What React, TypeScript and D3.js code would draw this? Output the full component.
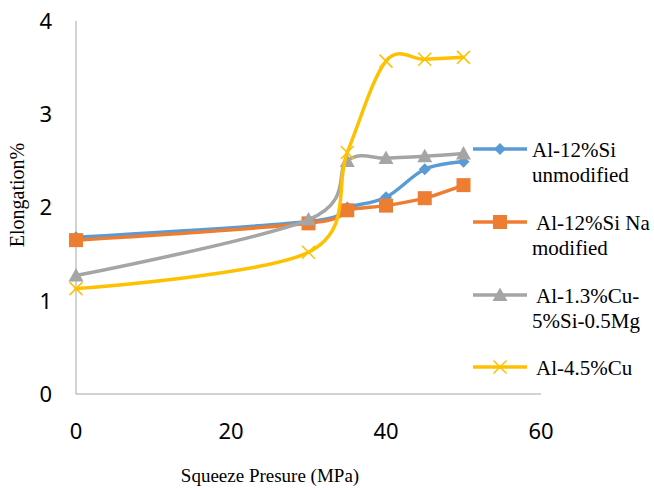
import React from "react";
import * as d3 from "d3";

const pressures = [0, 30, 35, 40, 45, 50];
const seriesNames = ["Al-12%Si unmodified", "Al-12%Si Na modified", "Al-1.3%Cu-5%Si-0.5Mg", "Al-4.5%Cu"];
const al12SiUnmod = [1.68, 1.85, 2.0, 2.11, 2.41, 2.49];
const al12SiNa = [1.65, 1.83, 1.97, 2.02, 2.1, 2.24];
const al13Cu = [1.27, 1.87, 2.5, 2.53, 2.55, 2.58];
const al45Cu = [1.13, 1.52, 2.59, 3.57, 3.59, 3.61];
const xTicks = [0, 20, 40, 60];
const yTicks = [0, 1, 2, 3, 4];
const legendLines = [["Al-12%Si", "unmodified"], [" Al-12%Si Na", "modified"], [" Al-1.3%Cu-", "5%Si-0.5Mg"], [" Al-4.5%Cu"]];
const colors = ["#5B9BD5", "#ED7D31", "#A5A5A5", "#FFC000"];
const markers = ["diamond", "square", "triangle", "x"];

const W = 654, H = 490;
const x = d3.scaleLinear().domain([0, 60]).range([76, 541]);
const y = d3.scaleLinear().domain([0, 4]).range([394, 21]);

function Marker({ kind, cx, cy, color }: { kind: string; cx: number; cy: number; color: string }) {
  if (kind === "diamond") {
    const r = 6;
    return <path d={`M${cx},${cy - r}L${cx + r},${cy}L${cx},${cy + r}L${cx - r},${cy}Z`} fill={color} />;
  }
  if (kind === "square") {
    const r = 7;
    return <rect x={cx - r} y={cy - r} width={2 * r} height={2 * r} fill={color} />;
  }
  if (kind === "triangle") {
    const r = 7.5;
    return <path d={`M${cx},${cy - r}L${cx + r},${cy + r * 0.8}L${cx - r},${cy + r * 0.8}Z`} fill={color} />;
  }
  const r = 6.5;
  return (
    <path d={`M${cx - r},${cy - r}L${cx + r},${cy + r}M${cx - r},${cy + r}L${cx + r},${cy - r}`} stroke={color} strokeWidth={1.5} fill="none" />
  );
}

export default function App() {
  const data = [al12SiUnmod, al12SiNa, al13Cu, al45Cu];
  const line = d3
    .line<number>()
    .x((_, i) => x(pressures[i]))
    .y((d) => y(d))
    .curve(d3.curveCardinal.tension(0));
  const legendY = [149, 222, 295, 367];
  return (
    <svg width={W} height={H} style={{ position: "absolute", left: 0, top: 0, background: "#fff" }}>
      <rect width={W} height={H} fill="#fff" />
      <line x1={x(0)} x2={x(0)} y1={y(4)} y2={y(0)} stroke="#A6A6A6" strokeWidth={1} />
      <line x1={x(0)} x2={x(60)} y1={y(0)} y2={y(0)} stroke="#A6A6A6" strokeWidth={1} />
      {yTicks.map((t) => (
        <text key={"y" + t} x={52} y={y(t)} dy="0.36em" textAnchor="end" fontFamily="'Noto Sans', sans-serif" fontSize={22} fill="#000">
          {t}
        </text>
      ))}
      {xTicks.map((t) => (
        <text key={"x" + t} x={x(t)} y={431} dy="0.36em" textAnchor="middle" fontFamily="'Noto Sans', sans-serif" fontSize={22} fill="#000">
          {t}
        </text>
      ))}
      <text transform="translate(24,195) rotate(-90)" textAnchor="middle" fontFamily="'Liberation Serif', serif" fontSize={20} fill="#000">
        Elongation%
      </text>
      <text x={270} y={482} textAnchor="middle" fontFamily="'Liberation Serif', serif" fontSize={19} fill="#000">
        Squeeze Presure (MPa)
      </text>
      {data.map((vals, si) => (
        <g key={si}>
          <path d={line(vals) || ""} fill="none" stroke={colors[si]} strokeWidth={3.5} strokeLinejoin="round" strokeLinecap="round" />
          {vals.map((v, i) => (
            <Marker key={i} kind={markers[si]} cx={x(pressures[i])} cy={y(v)} color={colors[si]} />
          ))}
        </g>
      ))}
      {seriesNames.map((name, si) => (
        <g key={name}>
          <line x1={473} x2={527} y1={legendY[si]} y2={legendY[si]} stroke={colors[si]} strokeWidth={3.5} />
          <Marker kind={markers[si]} cx={500} cy={legendY[si]} color={colors[si]} />
          <text fontFamily="'Liberation Serif', serif" fontSize={21} fill="#000" xmlSpace="preserve">
            {legendLines[si].map((ln, li) => (
              <tspan key={li} x={532} y={legendY[si] + 8 + li * 24.5} xmlSpace="preserve">
                {ln}
              </tspan>
            ))}
          </text>
        </g>
      ))}
    </svg>
  );
}
